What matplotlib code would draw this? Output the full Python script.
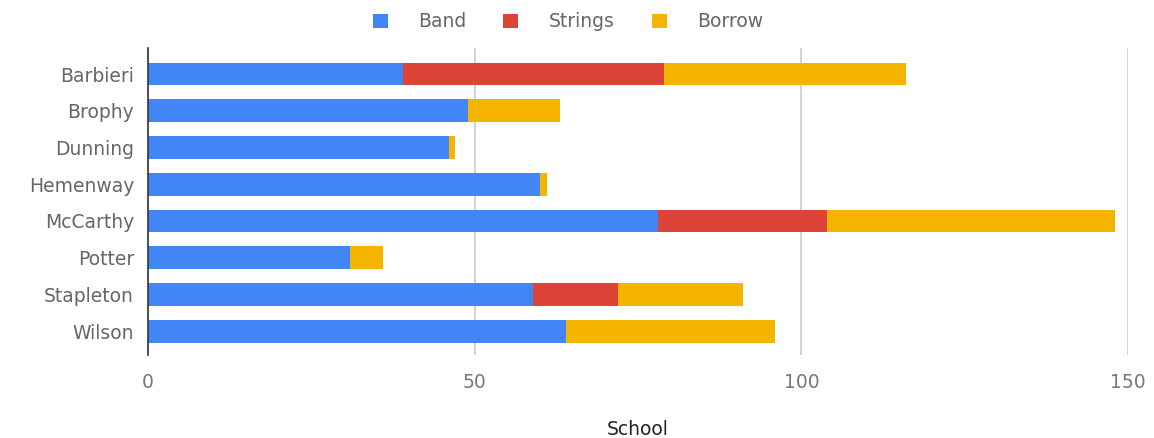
import matplotlib.pyplot as plt
import numpy as np

schools = ['Barbieri', 'Brophy', 'Dunning', 'Hemenway', 'McCarthy', 'Potter', 'Stapleton', 'Wilson']
band = [39, 49, 46, 60, 78, 31, 59, 64]
strings = [40, 0, 0, 0, 26, 0, 13, 0]
borrow = [37, 14, 1, 1, 44, 5, 19, 32]
xticks = [0, 50, 100, 150]

plt.rcParams['font.family'] = ['DejaVu Sans']

fig = plt.figure(figsize=(11.54, 4.38), dpi=100)
ax = fig.add_axes([0.1282, 0.1895, 0.8493, 0.7009])

y = np.arange(len(schools))
h = 0.62
band = np.array(band)
strings = np.array(strings)
borrow = np.array(borrow)
ax.barh(y, band, height=h, color='#4285F4', label='Band', zorder=3)
ax.barh(y, strings, left=band, height=h, color='#DB4437', label='Strings', zorder=3)
ax.barh(y, borrow, left=band + strings, height=h, color='#F4B400', label='Borrow', zorder=3)

ax.set_xlim(0, 150)
ax.set_ylim(len(schools) - 0.35, -0.71)
ax.set_yticks(y)
ax.set_yticklabels(schools, fontsize=13.5, color='#666666')
ax.set_xticks(xticks)
ax.set_xticklabels([str(t) for t in xticks], fontsize=13.5, color='#777777')
ax.tick_params(axis='y', length=0, pad=10)
ax.tick_params(axis='x', length=0, pad=13)
ax.grid(axis='x', color='#cccccc', linewidth=1.2, zorder=0)
for s in ['top', 'right', 'bottom']:
    ax.spines[s].set_visible(False)
ax.spines['left'].set_color('#333333')
ax.spines['left'].set_linewidth(1.2)
ax.spines['left'].set_zorder(4)

ax.set_xlabel('School', fontsize=13.5, color='#222222', labelpad=20)

fig.legend(loc='upper center', bbox_to_anchor=(0.492, 1.01), ncol=3, frameon=False,
           fontsize=13.5, handlelength=0.8, handleheight=0.8, columnspacing=2.0,
           handletextpad=1.6, labelcolor='#666666')

fig.savefig('out.png', dpi=100)
